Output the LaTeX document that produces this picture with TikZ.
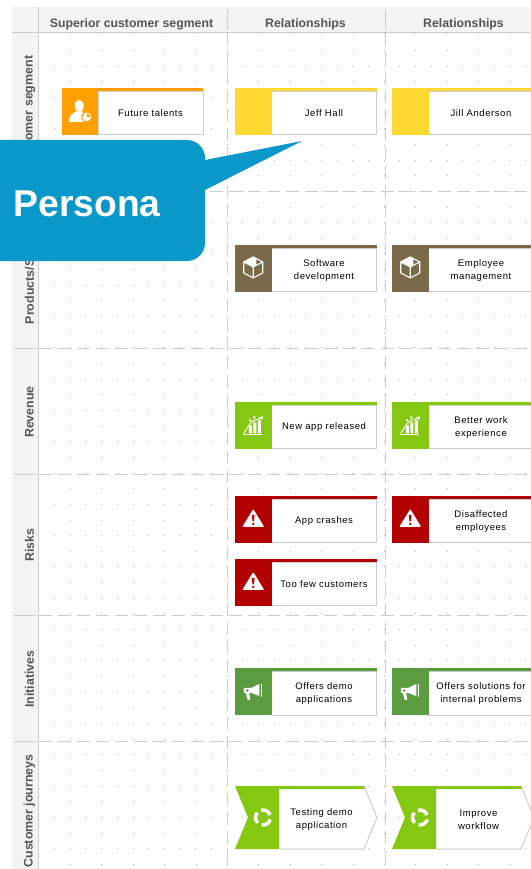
\documentclass[tikz,border=0pt]{standalone}
\usepackage{fontspec}
\setmainfont{Liberation Sans}
\newfontfamily\boxfont[LetterSpace=6]{Liberation Sans}
\usetikzlibrary{positioning}
\definecolor{bandgray}{HTML}{F3F3F3}
\definecolor{linegray}{HTML}{CDCDCD}
\definecolor{titlegray}{HTML}{555555}
\definecolor{personyellow}{HTML}{FFD932}
\definecolor{talentorange}{HTML}{FFA000}
\definecolor{productbrown}{HTML}{7A6A4A}
\definecolor{revenuegreen}{HTML}{84C811}
\definecolor{riskred}{HTML}{B30000}
\definecolor{initgreen}{HTML}{5B9C41}
\definecolor{calloutblue}{HTML}{0A98CB}
\begin{document}
\begin{tikzpicture}[x=1pt,y=-1pt,inner sep=0pt,outer sep=0pt,
sysblock/.style={draw=linegray,line width=1pt,fill=white,minimum width=105pt,minimum height=43.5pt,align=center,font=\boxfont\fontsize{9.5}{13}\selectfont,
  append after command={\pgfextra{\fill[#1] (\tikzlastnode.north west) rectangle ([yshift=3.5pt]\tikzlastnode.north east);}}},
sysicon/.style={fill=#1,minimum width=36.5pt,minimum height=47pt,anchor=south east},
steptext/.style={align=center,font=\boxfont\fontsize{9.5}{13}\selectfont},
coltitle/.style={font=\bfseries\fontsize{12.3}{14}\selectfont,text=titlegray,anchor=base},
rowtitle/.style={font=\bfseries\fontsize{12.4}{14}\selectfont,text=titlegray,rotate=90},
gridline/.style={draw=linegray,line width=.7pt,dash pattern=on 13pt off 6pt},
griddot/.style={fill=black!30},
pics/stepshape/.style={code={
  \fill[white] (44,0) -- (129,0) -- (142,31.5) -- (129,63) -- (44,63) -- cycle;
  \draw[linegray,line width=1pt] (129,0) -- (142,31.5) -- (129,63) -- (44,63);
  \fill[revenuegreen] (44,0) -- (129,0) -- (130,3) -- (44,3) -- cycle;
  \fill[revenuegreen] (0,0) -- (44,0) -- (44,63) -- (0,63) -- (13,31.5) -- cycle;
  \foreach \a in {15,135,255} \draw[white,line width=3.5pt] (28,31.5) ++(\a:7.5) arc[start angle=\a,end angle=\a+85,radius=7.5];
}},
pics/talenticon/.style={code={
  \fill[white] (-.5,-5.5) ellipse[x radius=4.5,y radius=6];
  \fill[white] (-11,10.5) .. controls (-11,4) and (-7,2) .. (-4,0) -- (3,0) .. controls (5,3) and (6,6) .. (5,10.5) -- cycle;
  \fill[white,draw=talentorange,line width=1pt] (7,5.5) circle[radius=5];
  \fill[talentorange] (7,5.5) -- (7,2) arc[start angle=-90,end angle=0,radius=3.5] -- cycle;
}},
pics/boxicon/.style={code={
  \draw[white,line width=1.1pt,line join=round] (0,-11.5) -- (9.5,-6.5) -- (9.5,4.5) -- (0,9.5) -- (-9.5,4.5) -- (-9.5,-6.5) -- cycle (-9.5,-6.5) -- (0,-1.5) -- (9.5,-6.5) (0,-1.5) -- (0,9.5);
  \fill[white] (-9.5,-6.5) -- (0,-11.5) -- (3,-10) -- (3,-3) -- (0,-1.5) -- cycle;
}},
pics/charticon/.style={code={
  \fill[white] (-4.5,0) rectangle (-1.5,8) (0,-3) rectangle (3,8) (4.5,-5) rectangle (7.5,8);
  \draw[white,line width=.8pt] (-10,8.5) -- (9,8.5);
  \draw[white,line width=1pt] (-9.5,8) -- (-3,-2) -- (1,-5) -- (9,-8);
  \fill[white] (10,-9) -- (6,-8.5) -- (8.5,-5) -- cycle;
  \fill[white] (-3,-5) circle[radius=1.5] (1,-8) circle[radius=1.5];
}},
pics/warnicon/.style={code={
  \fill[white,rounded corners=1pt] (0,-10.5) -- (11,7.5) -- (-11,7.5) -- cycle;
  \fill[riskred] (-1.3,-4.5) -- (1.3,-4.5) -- (.8,2) -- (-.8,2) -- cycle (0,4.5) circle[radius=1.4];
}},
pics/megaicon/.style={code={
  \fill[white] (-9.5,-4) -- (-2,-4) -- (6,-8) -- (6,4) -- (-2,1) -- (-9.5,1) -- cycle;
  \fill[white] (-7.5,1) -- (-4,1) -- (-3,8) -- (-5.5,8) -- cycle;
  \draw[white,line width=.9pt] (8.5,-8) -- (8.5,5);
  \fill[initgreen] (-6,-1.5) circle[radius=1.4];
}}]
\useasboundingbox (0,0) rectangle (530,869);

% header band and row band
\fill[bandgray] (12,7) rectangle (530,33);
\fill[bandgray] (12,33) rectangle (38,869);

% dotted background
\foreach \c in {0,...,14} \fill[griddot] ({70+31.4*\c},33.5) rectangle ++(1,1);
\foreach \r in {0,2,...,52} {
  \foreach \c in {0,...,14} \fill[griddot] ({70+31.4*\c},{50+15.65*\r}) rectangle ++(1,1);
}
\foreach \r in {1,3,...,51} {
  \foreach \c in {0,...,30} \fill[griddot] ({54+15.7*\c},{50+15.65*\r}) rectangle ++(1,1);
}

% lanes
\foreach \ypos in {191,348,474,615,741} {
  \draw[gridline] (39,\ypos) -- (530,\ypos);
  \draw[linegray,line width=1pt] (14,\ypos) -- (36,\ypos);
}
\foreach \xpos in {227,385} {
  \draw[gridline] (\xpos,33) -- (\xpos,869);
  \draw[linegray,line width=1pt] (\xpos,9) -- (\xpos,30);
}
\draw[linegray,line width=1.4pt] (12,32.7) -- (530,32.7);
\draw[linegray,line width=1.4pt] (38.3,7) -- (38.3,869);

\node[coltitle] (colSuperior) at (131.5,27.5) {Superior customer segment};
\node[coltitle] (colJeff) at (305.5,27.5) {Relationships};
\node[coltitle] (colJill) at (463.5,27.5) {Relationships};

\node[rowtitle] (rowSegment) at (29.5,112) {Customer segment};
\node[rowtitle] (rowProducts) at (29.5,270) {Products/Services};
\node[rowtitle] (rowRevenue) at (29.5,412) {Revenue};
\node[rowtitle] (rowRisks) at (29.5,545) {Risks};
\node[rowtitle] (rowInit) at (29.5,679) {Initiatives};
\node[rowtitle] (rowJourney) at (29.5,811) {Customer journeys};

% customer segment
\node[sysblock=talentorange] (talents) at (150.5,113.2) {Future talents};
\node[sysicon=talentorange] (talentsI) at (talents.south west) {};
\pic at (talentsI) {talenticon};
\node[sysblock=personyellow] (jeff) at (324,113.2) {Jeff Hall};
\node[sysicon=personyellow] (jeffI) at (jeff.south west) {};
\node[sysblock=personyellow] (jill) at (481,113.2) {Jill Anderson};
\node[sysicon=personyellow] (jillI) at (jill.south west) {};

% products
\node[sysblock=productbrown] (software) at (324,270.2) {Software\\development};
\node[sysicon=productbrown] (softwareI) at (software.south west) {};
\pic at (softwareI) {boxicon};
\node[sysblock=productbrown] (employee) at (481,270.2) {Employee\\management};
\node[sysicon=productbrown] (employeeI) at (employee.south west) {};
\pic at (employeeI) {boxicon};

% revenue
\node[sysblock=revenuegreen] (newapp) at (324,427.2) {New app released};
\node[sysicon=revenuegreen] (newappI) at (newapp.south west) {};
\pic at (newappI) {charticon};
\node[sysblock=revenuegreen] (better) at (481,427.2) {Better work\\experience};
\node[sysicon=revenuegreen] (betterI) at (better.south west) {};
\pic at (betterI) {charticon};

% risks
\node[sysblock=riskred] (crashes) at (324,521.2) {App crashes};
\node[sysicon=riskred] (crashesI) at (crashes.south west) {};
\pic at (crashesI) {warnicon};
\node[sysblock=riskred] (disaff) at (481,521.2) {Disaffected\\employees};
\node[sysicon=riskred] (disaffI) at (disaff.south west) {};
\pic at (disaffI) {warnicon};
\node[sysblock=riskred] (toofew) at (324,584.2) {Too few customers};
\node[sysicon=riskred] (toofewI) at (toofew.south west) {};
\pic at (toofewI) {warnicon};

% initiatives
\node[sysblock=initgreen] (demo) at (324,693.7) {Offers demo\\applications};
\node[sysicon=initgreen] (demoI) at (demo.south west) {};
\pic at (demoI) {megaicon};
\node[sysblock=initgreen] (solutions) at (481,693.7) {Offers solutions for\\internal problems};
\node[sysicon=initgreen] (solutionsI) at (solutions.south west) {};
\pic at (solutionsI) {megaicon};

% journeys
\pic at (235,786) {stepshape};
\node[steptext] (testing) at (321.5,819.5) {Testing demo\\application};
\pic at (392,786) {stepshape};
\node[steptext] (improve) at (478.5,819.5) {Improve\\workflow};

% callout on top of everything
\fill[calloutblue] (0,140) [rounded corners=18pt] -- (205,140) [sharp corners] -- (205,160) -- (302,141) -- (205,190) [rounded corners=18pt] -- (205,261) [sharp corners] -- (0,261) -- cycle;
\node[text=white,font=\bfseries\fontsize{37.3}{37}\selectfont,anchor=base west] (persona) at (13.5,216) {Persona};
\end{tikzpicture}
\end{document}
